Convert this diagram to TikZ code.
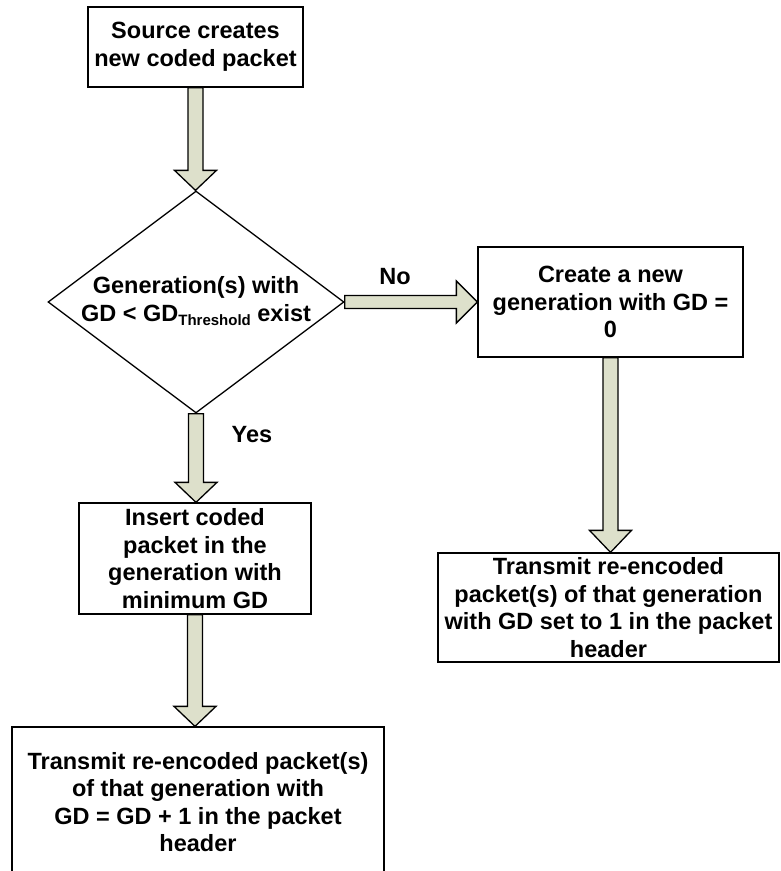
\documentclass[tikz,border=0pt]{standalone}
\usepackage{fontspec}
\setmainfont{Liberation Sans}
\usetikzlibrary{shapes.geometric,calc}
\definecolor{arrowfill}{RGB}{221,224,203}

\tikzset{
  every node/.style={font=\fontsize{23.5}{27.6}\selectfont\bfseries},
  box/.style={draw, line width=1.3pt, fill=white, inner sep=0pt, align=center},
  decision/.style={draw, diamond, line width=1.3pt, fill=white, inner sep=0pt},
  fatarrow/.style={draw, line width=1.3pt, fill=arrowfill, line join=miter},
  lbl/.style={inner sep=0pt, align=center}
}

% block arrow pointing down: source node, target node, head length
\newcommand\fatdown[3]{%
  \draw[fatarrow] let \p1=(#1), \p2=(#2) in
    (\x1-7.5pt,\y1) -- (\x1+7.5pt,\y1) -- (\x1+7.5pt,\y2+#3pt) --
    (\x1+21pt,\y2+#3pt) -- (\x1,\y2) -- (\x1-21pt,\y2+#3pt) --
    (\x1-7.5pt,\y2+#3pt) -- cycle;}
% block arrow pointing right
\newcommand\fatright[2]{%
  \draw[fatarrow] let \p1=(#1), \p2=(#2) in
    (\x1,\y1+6.5pt) -- (\x2-21pt,\y1+6.5pt) -- (\x2-21pt,\y1+21pt) --
    (\x2,\y1) -- (\x2-21pt,\y1-21pt) -- (\x2-21pt,\y1-6.5pt) --
    (\x1,\y1-6.5pt) -- cycle;}

\begin{document}
\begin{tikzpicture}[x=1pt, y=-1pt]
  \useasboundingbox (0,0) rectangle (780,871);
  \clip (0,0) rectangle (780,871);

  % process steps
  \node[box, minimum width=215pt, minimum height=80pt] (src) at (195.5,47)
    {Source creates\\new coded packet};
  \node[decision, minimum width=296pt, minimum height=222pt] (dia) at (196,302) {};
  \node[lbl] (diatext) at (196,301)
    {Generation(s) with\\GD < GD\raisebox{-4pt}{\fontsize{15}{16}\selectfont Threshold} exist};
  \node[box, minimum width=265pt, minimum height=110pt] (create) at (610.5,302)
    {Create a new\\generation with GD =\\0};
  \node[box, minimum width=341pt, minimum height=109pt] (xmitR) at (608.5,607.5)
    {Transmit re-encoded\\packet(s) of that generation\\with GD set to 1 in the packet\\header};
  \node[box, minimum width=232pt, minimum height=111pt] (insert) at (195,558.5)
    {Insert coded\\packet in the\\generation with\\minimum GD};
  \node[box, minimum width=372pt, minimum height=150pt] (xmitL) at (198,802)
    {Transmit re-encoded packet(s)\\of that generation with\\GD = GD + 1 in the packet\\header};

  % connectors
  \fatdown{src.south}{dia.north}{20}
  \fatright{dia.east}{create.west}
  \fatdown{dia.south}{insert.north}{20}
  \fatdown{create.south}{xmitR.north}{22}
  \fatdown{insert.south}{xmitL.north}{20}

  % branch labels
  \node[lbl] (no) at (395,277) {No};
  \node[lbl] (yes) at (252,435) {Yes};
\end{tikzpicture}
\end{document}
